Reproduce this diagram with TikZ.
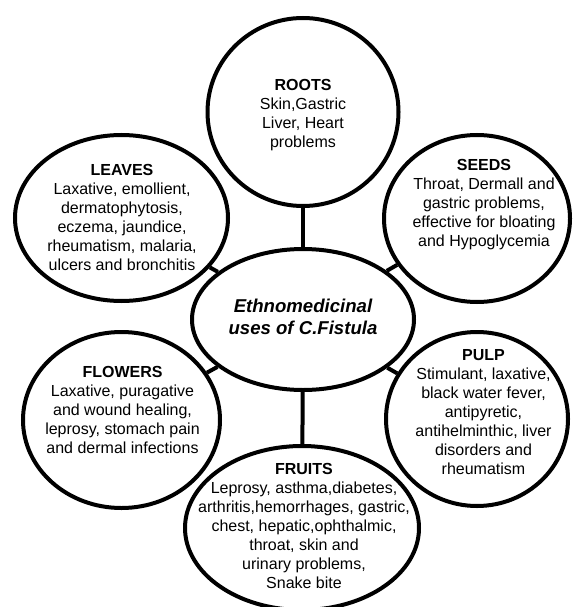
\documentclass[tikz,border=0pt]{standalone}
\usepackage{fontspec}
\setmainfont{Liberation Sans}
\usetikzlibrary{shapes.geometric}

\begin{document}
\begin{tikzpicture}[x=1pt, y=-1pt,
        part/.style={ellipse, draw, line width=4pt, inner sep=0pt},
        parttext/.style={align=center, inner sep=0pt, font=\fontsize{16}{19}\selectfont},
        link/.style={line width=4pt}]
        \useasboundingbox (0,0) rectangle (573,607);

        % Centre
        \node[part, minimum width=222pt, minimum height=141pt] (centre) at (303,319.5) {};
        \node[parttext, font=\fontsize{18.6}{21.8}\selectfont\bfseries\itshape] (centretext) at (303,317) {Ethnomedicinal\\uses of C.Fistula};

        % Roots
        \node[part, minimum width=191pt, minimum height=188pt] (roots) at (303,112) {};
        \node[parttext] (rootstext) at (303,115) {\textbf{ROOTS}\\Skin,Gastric\\Liver, Heart\\problems};

        % Leaves
        \node[part, minimum width=213pt, minimum height=166pt] (leaves) at (121.5,218) {};
        \node[parttext] (leavestext) at (122,217) {\textbf{LEAVES}\\Laxative, emollient,\\dermatophytosis,\\eczema, jaundice,\\rheumatism, malaria,\\ulcers and bronchitis};

        % Seeds
        \node[part, minimum width=186pt, minimum height=167pt] (seeds) at (477,218.5) {};
        \node[parttext] (seedstext) at (484,205) {\textbf{SEEDS}\\Throat, Dermall and\\gastric problems,\\effective for bloating\\and Hypoglycemia};

        % Flowers
        \node[part, minimum width=197pt, minimum height=176pt] (flowers) at (121.5,420) {};
        \node[parttext] (flowerstext) at (122.5,409.5) {\textbf{FLOWERS}\\Laxative, puragative\\and wound healing,\\leprosy, stomach pain\\and dermal infections};

        % Pulp
        \node[part, minimum width=182pt, minimum height=174pt] (pulp) at (477,419) {};
        \node[parttext] (pulptext) at (483.5,412.5) {\textbf{PULP}\\Stimulant, laxative,\\black water fever,\\antipyretic,\\antihelminthic, liver\\disorders and\\rheumatism};

        % Fruits
        \node[part, minimum width=234pt, minimum height=164pt] (fruits) at (302,528) {};
        \node[parttext] (fruitstext) at (304,526) {\textbf{FRUITS}\\Leprosy, asthma,diabetes,\\arthritis,hemorrhages, gastric,\\chest, hepatic,ophthalmic,\\throat, skin and\\urinary problems,\\Snake bite};

        % Connectors
        \draw[link] (centre) -- (roots);
        \draw[link] (centre) -- (leaves);
        \draw[link] (centre) -- (seeds);
        \draw[link] (centre) -- (flowers);
        \draw[link] (centre) -- (pulp);
        \draw[link] (centre) -- (fruits);
    \end{tikzpicture}
\end{document}
